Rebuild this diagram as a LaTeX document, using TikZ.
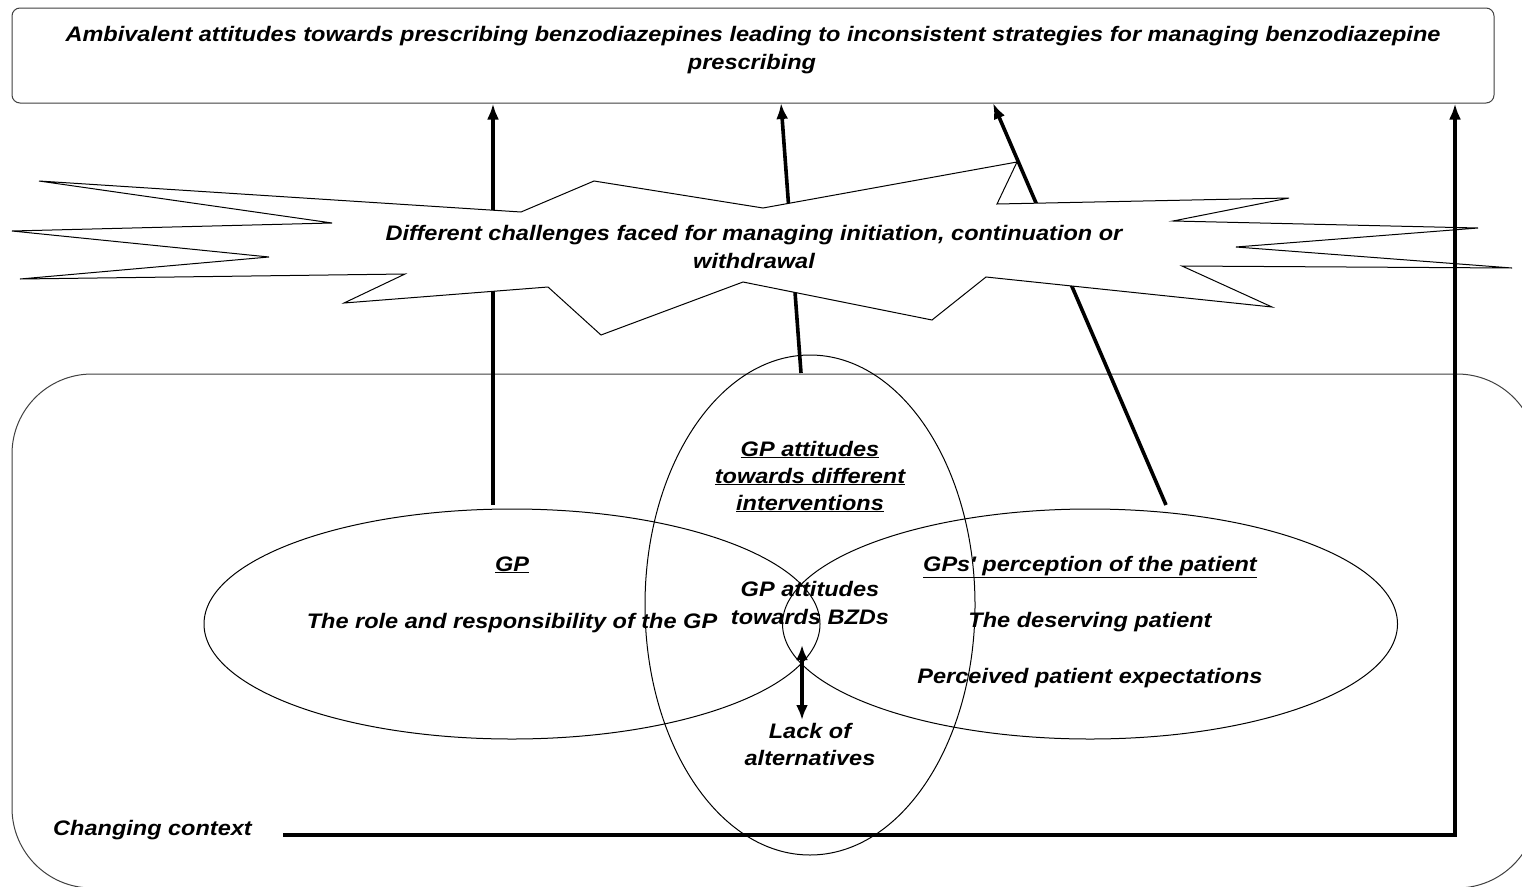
\documentclass[tikz,border=0pt]{standalone}
\usepackage{fontspec}
\newfontfamily\lab{Liberation Sans}[FakeStretch=1.12]
\usetikzlibrary{arrows.meta,shapes.geometric}
\begin{document}
\begin{tikzpicture}[x=1pt,y=-1pt,
  txt/.style={font=\lab\bfseries\itshape\fontsize{21}{27}\selectfont, inner sep=0pt, anchor=base},
  outline/.style={draw=black!75, line width=1pt},
  ell/.style={draw=black, line width=1pt, ellipse, inner sep=0pt},
  tip/.style={Latex[length=16pt,width=12pt]},
  arr/.style={line width=3.6pt, -{Latex[length=16pt,width=12pt]}}]
\useasboundingbox (0,0) rectangle (1522,886);
\clip (0,0) rectangle (1522,886);
\fill[white] (0,0) rectangle (1522,886);

% top box
\node[outline, rounded corners=8pt, minimum width=1482pt, minimum height=95pt, inner sep=0pt] (top) at (753,55.5) {};
\node[txt] (t1) at (753,41) {Ambivalent attitudes towards prescribing benzodiazepines leading to inconsistent strategies for managing benzodiazepine};
\node[txt] (t2) at (752,69) {prescribing};

% context box
\draw[outline, rounded corners=80pt] (12,374) rectangle (1537,888);

% ellipses
\node[ell, minimum width=616pt, minimum height=230pt] (gp) at (512,624) {};
\node[ell, minimum width=615pt, minimum height=230pt] (pat) at (1090,624) {};
\node[ell, minimum width=330pt, minimum height=500pt] (att) at (810,605) {};

% anchors of arrows
\coordinate (a1) at (493,505);
\coordinate (a2) at (801,373);
\coordinate (a2t) at (781,103);
\coordinate (a3) at (1166,505);
\coordinate (a3t) at (993,103);
\coordinate (a4) at (283,835);
\coordinate (a4c) at (1455,835);

\draw[arr] (a1) -- (a1 |- top.south);
\draw[arr] (a2) -- (a2t);
\draw[arr] (a3) -- (a3t);

% star
\draw[line width=1pt, fill=white, line join=miter]
 (39,181) -- (332,223) -- (12,231) -- (269,257) -- (20,279) -- (405,274) -- (344,303) -- (548,287)
 -- (601,335) -- (743,282) -- (932,320) -- (986,277) -- (1272,307) -- (1182,266) -- (1512,268)
 -- (1236,247) -- (1478,228) -- (1173,221) -- (1289,198) -- (997,204) -- (1017,162) -- (763,208)
 -- (594,181) -- (521,212) -- cycle;
\node[txt] (s1) at (754,240) {Different challenges faced for managing initiation, continuation or};
\node[txt] (s2) at (754,268) {withdrawal};

% changing context
\node[txt, anchor=base west] (cc) at (53,835) {Changing context};
\draw[line width=4.5pt, -{Latex[length=16pt,width=12pt]}] (a4) -- (a4c) -- (a4c |- top.south);

% ellipse texts
\node[txt] (v1) at (810,456) {\underline{GP attitudes}};
\node[txt] (v2) at (810,483) {\underline{towards different}};
\node[txt] (v3) at (810,510) {\underline{interventions}};
\node[txt] (b1) at (810,596) {GP attitudes};
\node[txt] (b2) at (810,624) {towards BZDs};
\node[txt] (l1) at (810,738) {Lack of};
\node[txt] (l2) at (810,765) {alternatives};
\node[txt] (g1) at (512,571) {\underline{GP}};
\node[txt] (g2) at (512,628) {The role and responsibility of the GP};
\node[txt] (p1) at (1090,571) {\underline{GPs' perception of the patient}};
\node[txt] (p2) at (1090,627) {The deserving patient};
\node[txt] (p3) at (1090,683) {Perceived patient expectations};

\coordinate (d1) at (802,645);
\coordinate (d2) at (802,720);
\draw[line width=3.6pt, {Latex[length=15pt,width=12pt]}-{Latex[length=15pt,width=12pt]}] (d1) -- (d2);
\end{tikzpicture}
\end{document}
